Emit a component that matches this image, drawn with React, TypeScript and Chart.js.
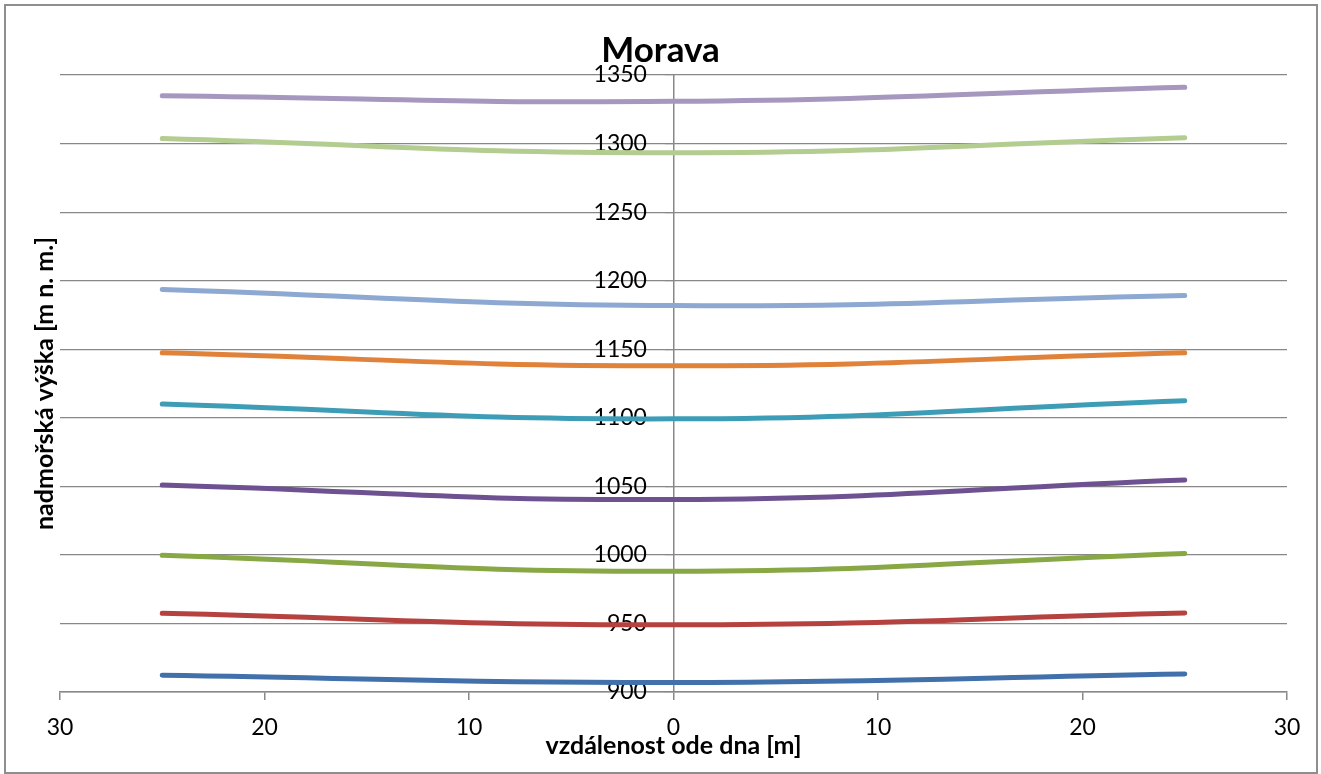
import React, { useEffect, useRef } from 'react';
import { Chart, registerables } from 'chart.js';

Chart.register(...registerables);

const chartTitle = 'Morava';
const xAxisTitle = 'vzdálenost ode dna [m]';
const yAxisTitle = 'nadmořská výška [m n. m.]';

const xPositions = [-25, 0, 25];
const xTicks = [-30, -20, -10, 0, 10, 20, 30];
const yTicks = [900, 950, 1000, 1050, 1100, 1150, 1200, 1250, 1300, 1350];

const series1 = [912.3, 907.0, 913.2];
const series2 = [957.4, 949.0, 957.7];
const series3 = [999.7, 988.0, 1001.1];
const series4 = [1051.0, 1040.4, 1054.7];
const series5 = [1110.0, 1099.2, 1112.5];
const series6 = [1147.4, 1137.9, 1147.4];
const series7 = [1193.6, 1181.8, 1189.1];
const series8 = [1303.7, 1293.3, 1304.3];
const series9 = [1334.8, 1330.8, 1341.1];

const allSeries = [series1, series2, series3, series4, series5, series6, series7, series8, series9];
const seriesColors = ['#4170AA', '#B5423F', '#88A846', '#6D5191', '#3E9DB6', '#E0823A', '#8DA8D1', '#B3CC90', '#A697BF'];

const FONT = 'Lato, "Liberation Sans", sans-serif';
const GRID = '#888888';

export default function App() {
  const canvasRef = useRef<HTMLCanvasElement | null>(null);

  useEffect(() => {
    const canvas = canvasRef.current;
    if (!canvas) return;
    const datasets = allSeries.map((s, i) => ({
      label: 'Série ' + (i + 1),
      data: s.map((v, j) => ({ x: xPositions[j], y: v })),
      borderColor: seriesColors[i],
      backgroundColor: seriesColors[i],
      borderWidth: 5,
      borderCapStyle: 'round' as const,
      pointRadius: 0,
      tension: 0.45,
      fill: false,
      yAxisID: 'y',
    }));

    const chart = new Chart(canvas, {
      type: 'line',
      data: { datasets },
      options: {
        animation: false,
        responsive: true,
        maintainAspectRatio: false,
        layout: { padding: 0 },
        plugins: {
          legend: { display: false },
          tooltip: { enabled: false },
          title: {
            display: true,
            text: chartTitle,
            color: '#000',
            font: { family: FONT, size: 35, weight: 'bold' },
            padding: { top: 30, bottom: 3 },
          },
        },
        scales: {
          x: {
            type: 'linear',
            position: 'bottom',
            min: -30,
            max: 30,
            afterBuildTicks: (s: any) => {
              s.ticks = xTicks.map((v) => ({ value: v }));
            },
            afterFit: (s: any) => {
              s.height = 82;
              s.paddingLeft = 0;
              s.paddingRight = 0;
            },
            ticks: {
              autoSkip: false,
              maxRotation: 0,
              padding: 14,
              color: '#000',
              font: { family: FONT, size: 23 },
              callback: (v: any) => String(Math.abs(Number(v))),
            },
            grid: { drawOnChartArea: false, drawTicks: true, tickLength: 8, color: GRID, lineWidth: 1.5 },
            border: { display: true, color: GRID, width: 1.5 },
            title: {
              display: true,
              text: xAxisTitle,
              color: '#000',
              font: { family: FONT, size: 25, weight: 'bold' },
              padding: { top: 0, bottom: 13 },
            },
          },
          yTitle: {
            type: 'linear',
            position: 'left',
            min: 900,
            max: 1350,
            ticks: { display: false },
            grid: { display: false },
            border: { display: false },
            afterFit: (s: any) => {
              s.width = 60;
            },
            title: {
              display: true,
              text: yAxisTitle,
              color: '#000',
              font: { family: FONT, size: 25, weight: 'bold' },
              padding: { top: 30, bottom: 0 },
            },
          },
          yRight: {
            type: 'linear',
            position: 'right',
            min: 900,
            max: 1350,
            ticks: { display: false },
            grid: { display: false },
            border: { display: false },
            afterFit: (s: any) => {
              s.width = 34;
            },
          },
          y: {
            type: 'linear',
            position: { x: 0 } as any,
            min: 900,
            max: 1350,
            afterBuildTicks: (s: any) => {
              s.ticks = yTicks.map((v) => ({ value: v }));
            },
            ticks: { display: false },
            grid: { color: GRID, lineWidth: 1.2, drawTicks: true, tickLength: 8 },
            border: { display: true, color: GRID, width: 1.5 },
          },
          yLabels: {
            type: 'linear',
            position: { x: -1.3 } as any,
            min: 900,
            max: 1350,
            afterBuildTicks: (s: any) => {
              s.ticks = yTicks.map((v) => ({ value: v }));
            },
            ticks: {
              display: true,
              color: '#000',
              font: { family: FONT, size: 23 },
              padding: 0,
              callback: (v: any) => String(v),
            },
            grid: { display: false, drawTicks: false },
            border: { display: false },
          },
        },
      } as any,
    });
    return () => chart.destroy();
  }, []);

  return (
    <div style={{ position: 'absolute', left: 0, top: 0, width: 1321, height: 774, background: '#fff' }}>
      <div
        style={{
          position: 'absolute',
          left: 4,
          top: 4,
          width: 1314,
          height: 770,
          boxSizing: 'border-box',
          border: '2px solid #8e8e8e',
        }}
      />
      <div style={{ position: 'absolute', left: 0, top: 0, width: 1321, height: 774 }}>
        <canvas ref={canvasRef} />
      </div>
    </div>
  );
}
